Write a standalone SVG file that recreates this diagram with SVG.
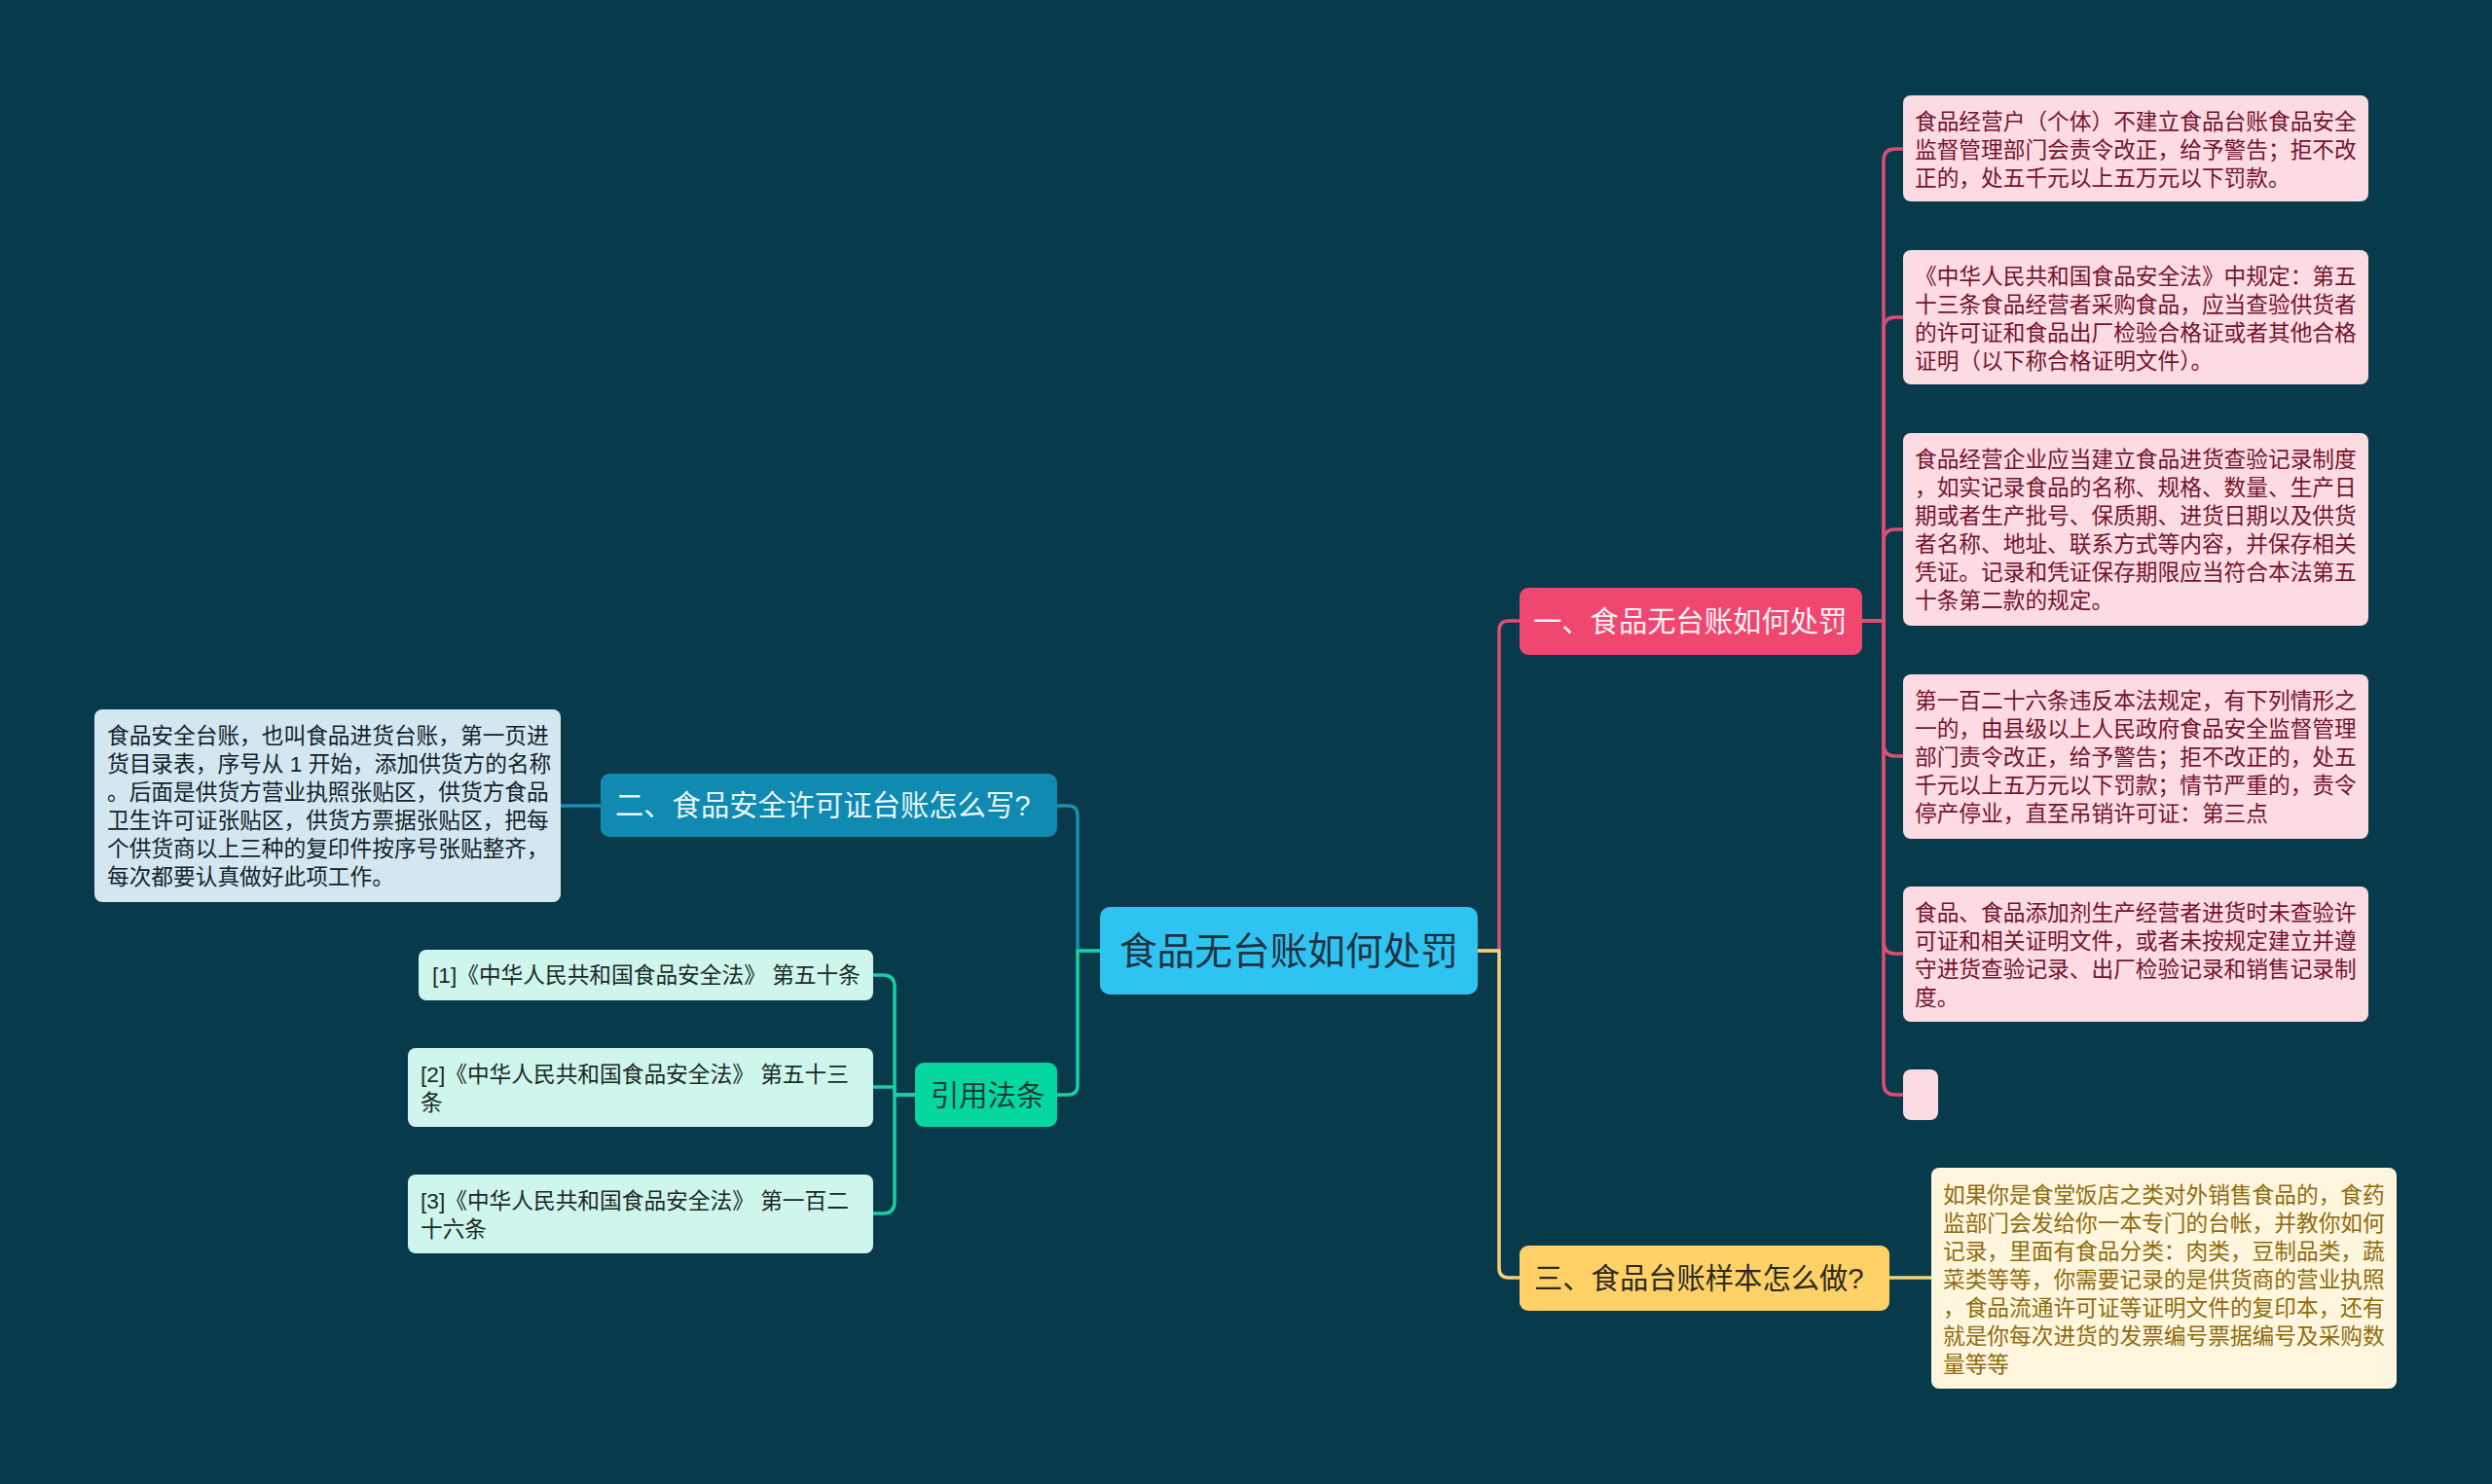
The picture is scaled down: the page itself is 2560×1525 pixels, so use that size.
<svg xmlns="http://www.w3.org/2000/svg" width="2560" height="1525" viewBox="0 0 2560 1525">
<style>
text{font-family:"Liberation Sans","Noto Sans CJK SC",sans-serif;}
.leaf{font-size:22.7px;}
.pink rect{fill:#FCDBE2;}
.pink text{fill:#74142F;}
.blue rect{fill:#D2E7EF;}
.blue text{fill:#14232B;}
.mint rect{fill:#CEF6EC;}
.mint text{fill:#1C2A27;}
.cream rect{fill:#FFF6DD;}
.cream text{fill:#8F6C10;}
.br{font-size:29.3px;}
.c{fill:none;stroke-width:3.5;stroke-linecap:round;stroke-linejoin:round;}
</style>
<rect x="0" y="0" width="2560" height="1525" fill="#073B4C"/>

<g id="connectors">
  <path class="c" stroke="#E04C76" d="M1518 977 H1540 V648 Q1540 638 1550 638 H1561"/>
  <path class="c" stroke="#F5D176" d="M1518 977 H1540 V1303 Q1540 1313 1550 1313 H1561"/>
  <path class="c" stroke="#1A8DB3" d="M1130 977 H1107 V838 Q1107 828 1097 828 H1086"/>
  <path class="c" stroke="#18CFA0" d="M1130 977 H1107 V1115 Q1107 1125 1097 1125 H1086"/>
  <path class="c" stroke="#E04C76" d="M1913 638 H1935 V165 Q1935 153 1947 153 H1955"/>
  <path class="c" stroke="#E04C76" d="M1913 638 H1935 V338 Q1935 326 1947 326 H1955"/>
  <path class="c" stroke="#E04C76" d="M1913 638 H1935 V556 Q1935 544 1947 544 H1955"/>
  <path class="c" stroke="#E04C76" d="M1913 638 H1935 V765 Q1935 777 1947 777 H1955"/>
  <path class="c" stroke="#E04C76" d="M1913 638 H1935 V968 Q1935 980 1947 980 H1955"/>
  <path class="c" stroke="#E04C76" d="M1913 638 H1935 V1113 Q1935 1125 1947 1125 H1955"/>
  <path class="c" stroke="#F5D176" d="M1941 1313 H1984"/>
  <path class="c" stroke="#1A8DB3" d="M617 828 H576"/>
  <path class="c" stroke="#18CFA0" d="M940 1125 H919 V1014 Q919 1002 907 1002 H897"/>
  <path class="c" stroke="#18CFA0" d="M940 1125 H919 V1117 H897"/>
  <path class="c" stroke="#18CFA0" d="M940 1125 H919 V1235 Q919 1247 907 1247 H897"/>
</g>

<g id="root">
  <rect x="1130" y="932" width="388" height="90" rx="10" fill="#2FC3F2"/>
  <text x="1324" y="991" font-size="38.7" text-anchor="middle" fill="#1E3440">食品无台账如何处罚</text>
</g>

<g id="branch1">
  <rect x="1561" y="604" width="352" height="69" rx="9" fill="#EF476F"/>
  <text class="br" x="1575" y="649" fill="#FFF2F5">一、食品无台账如何处罚</text>
</g>

<g id="branch2">
  <rect x="617" y="795" width="469" height="65" rx="9" fill="#118AB2"/>
  <text class="br" x="632" y="838" fill="#E8F6FB">二、食品安全许可证台账怎么写?</text>
</g>

<g id="branch3">
  <rect x="1561" y="1280" width="380" height="67" rx="9" fill="#FFD166"/>
  <text class="br" x="1576" y="1324" fill="#2A2A22">三、食品台账样本怎么做?</text>
</g>

<g id="refs">
  <rect x="940" y="1092" width="146" height="66" rx="9" fill="#06D6A0"/>
  <text class="br" x="956" y="1136" fill="#1B4035">引用法条</text>
</g>

<g id="leaf1" class="pink leaf">
  <rect x="1955" y="98" width="478" height="109" rx="8"/>
  <text x="1967" y="133">食品经营户（个体）不建立食品台账食品安全</text>
  <text x="1967" y="162">监督管理部门会责令改正，给予警告；拒不改</text>
  <text x="1967" y="191">正的，处五千元以上五万元以下罚款。</text>
</g>

<g id="leaf2" class="pink leaf">
  <rect x="1955" y="257" width="478" height="138" rx="8"/>
  <text x="1967" y="292">《中华人民共和国食品安全法》中规定：第五</text>
  <text x="1967" y="321">十三条食品经营者采购食品，应当查验供货者</text>
  <text x="1967" y="350">的许可证和食品出厂检验合格证或者其他合格</text>
  <text x="1967" y="379">证明（以下称合格证明文件）。</text>
</g>

<g id="leaf3" class="pink leaf">
  <rect x="1955" y="445" width="478" height="198" rx="8"/>
  <text x="1967" y="480">食品经营企业应当建立食品进货查验记录制度</text>
  <text x="1967" y="509">，如实记录食品的名称、规格、数量、生产日</text>
  <text x="1967" y="538">期或者生产批号、保质期、进货日期以及供货</text>
  <text x="1967" y="567">者名称、地址、联系方式等内容，并保存相关</text>
  <text x="1967" y="596">凭证。记录和凭证保存期限应当符合本法第五</text>
  <text x="1967" y="625">十条第二款的规定。</text>
</g>

<g id="leaf4" class="pink leaf">
  <rect x="1955" y="693" width="478" height="169" rx="8"/>
  <text x="1967" y="728">第一百二十六条违反本法规定，有下列情形之</text>
  <text x="1967" y="757">一的，由县级以上人民政府食品安全监督管理</text>
  <text x="1967" y="786">部门责令改正，给予警告；拒不改正的，处五</text>
  <text x="1967" y="815">千元以上五万元以下罚款；情节严重的，责令</text>
  <text x="1967" y="844">停产停业，直至吊销许可证：第三点</text>
</g>

<g id="leaf5" class="pink leaf">
  <rect x="1955" y="911" width="478" height="139" rx="8"/>
  <text x="1967" y="946">食品、食品添加剂生产经营者进货时未查验许</text>
  <text x="1967" y="975">可证和相关证明文件，或者未按规定建立并遵</text>
  <text x="1967" y="1004">守进货查验记录、出厂检验记录和销售记录制</text>
  <text x="1967" y="1033">度。</text>
</g>

<g id="leaf6" class="pink leaf">
  <rect x="1955" y="1099" width="36" height="52" rx="8"/>
</g>

<g id="leaf7" class="cream leaf">
  <rect x="1984" y="1200" width="478" height="227" rx="8"/>
  <text x="1996" y="1236">如果你是食堂饭店之类对外销售食品的，食药</text>
  <text x="1996" y="1265">监部门会发给你一本专门的台帐，并教你如何</text>
  <text x="1996" y="1294">记录，里面有食品分类：肉类，豆制品类，蔬</text>
  <text x="1996" y="1323">菜类等等，你需要记录的是供货商的营业执照</text>
  <text x="1996" y="1352">，食品流通许可证等证明文件的复印本，还有</text>
  <text x="1996" y="1381">就是你每次进货的发票编号票据编号及采购数</text>
  <text x="1996" y="1410">量等等</text>
</g>

<g id="leaf8" class="blue leaf">
  <rect x="97" y="729" width="479" height="198" rx="8"/>
  <text x="110" y="764">食品安全台账，也叫食品进货台账，第一页进</text>
  <text x="110" y="793">货目录表，序号从 1 开始，添加供货方的名称</text>
  <text x="110" y="822">。后面是供货方营业执照张贴区，供货方食品</text>
  <text x="110" y="851">卫生许可证张贴区，供货方票据张贴区，把每</text>
  <text x="110" y="880">个供货商以上三种的复印件按序号张贴整齐，</text>
  <text x="110" y="909">每次都要认真做好此项工作。</text>
</g>

<g id="ref1" class="mint leaf">
  <rect x="430" y="976" width="467" height="52" rx="8"/>
  <text x="444" y="1010">[1]《中华人民共和国食品安全法》 第五十条</text>
</g>

<g id="ref2" class="mint leaf">
  <rect x="419" y="1077" width="478" height="81" rx="8"/>
  <text x="432" y="1112">[2]《中华人民共和国食品安全法》 第五十三</text>
  <text x="432" y="1141">条</text>
</g>

<g id="ref3" class="mint leaf">
  <rect x="419" y="1207" width="478" height="81" rx="8"/>
  <text x="432" y="1242">[3]《中华人民共和国食品安全法》 第一百二</text>
  <text x="432" y="1271">十六条</text>
</g>
</svg>
